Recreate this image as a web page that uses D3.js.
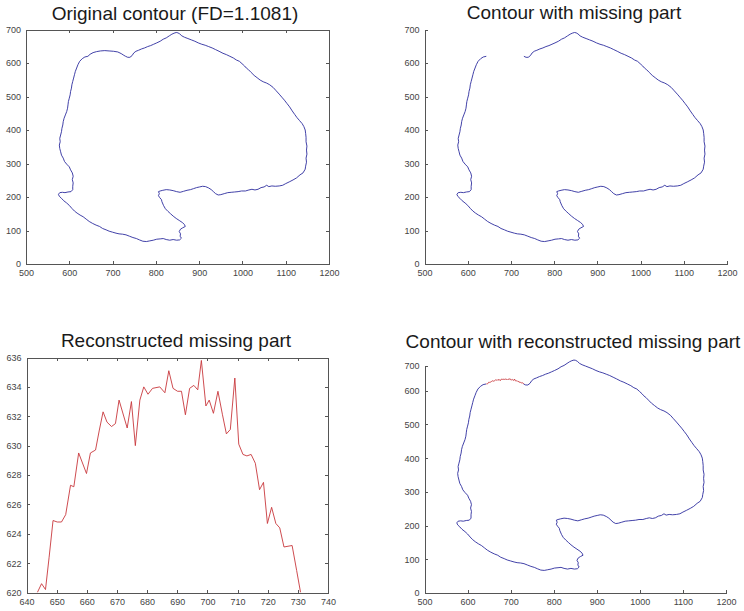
<!DOCTYPE html>
<html>
<head>
<meta charset="utf-8">
<script src="https://cdn.jsdelivr.net/npm/d3@7/dist/d3.min.js"></script>
<style>
  body { margin: 0; background: #fff; }
  svg { display: block; font-family: "Liberation Sans", Arial, sans-serif; }
  .axis text { font-size: 9px; fill: #444; }
  .axis path, .axis line { stroke: #555; stroke-width: 1; shape-rendering: crispEdges; }
  .title { font-size: 19px; fill: #1a1a1a; text-anchor: middle; }
</style>
</head>
<body>
<svg id="chart" width="744" height="611"></svg>
<script>
// contour points [x, y], clockwise from the right end of the gap
const contourKnown = [
  [730,620],[735,617],[740,617],[745,622],[749,630],[754,635],[760,638],[767,642],[774,645],[781,649],
  [788,652],[795,656],[802,660],[810,665],[817,671],[824,675],[831,681],[837,686],[842,689],[847,691],
  [851,690],[855,687],[860,681],[866,677],[874,673],[882,669],[890,665],[898,660],[906,656],[914,653],
  [922,649],[930,645],[938,640],[946,635],[955,629],[963,625],[971,620],[979,615],[986,609],[993,605],
  [999,598],[1005,591],[1009,585],[1014,580],[1020,572],[1027,563],[1034,556],[1041,549],[1048,544],
  [1056,540],[1063,535],[1071,527],[1078,517],[1085,507],[1091,498],[1097,489],[1103,479],[1109,469],
  [1115,457],[1121,446],[1126,437],[1132,428],[1138,419],[1142,410],[1145,400],[1146,390],[1147,378],
  [1147,365],[1149,352],[1148,340],[1149,328],[1147,316],[1148,304],[1146,292],[1145,283],[1140,272],
  [1133,266],[1125,257],[1117,251],[1108,245],[1100,240],[1093,235],[1085,233],[1076,232],[1068,233],
  [1061,231],[1056,235],[1050,230],[1043,228],[1036,223],[1029,221],[1022,223],[1015,221],[1007,218],
  [998,218],[990,216],[982,215],[974,214],[966,213],[958,210],[950,207],[944,206],[938,210],[933,216],
  [928,222],[922,227],[915,231],[908,232],[901,230],[894,228],[887,225],[880,222],[872,220],[864,217],
  [856,214],[848,216],[840,219],[832,221],[824,222],[816,220],[810,218],[806,216],[808,210],[806,204],
  [809,198],[813,192],[814,186],[818,174],[822,165],[828,157],[834,150],[840,143],[847,136],[854,130],
  [861,124],[866,118],[868,112],[862,108],[857,104],[854,97],[857,90],[856,83],[859,77],[855,72],
  [848,71],[840,73],[832,71],[824,73],[817,76],[810,75],[802,74],[794,71],[786,69],[778,67],
  [770,68],[762,72],[755,76],[747,79],[739,83],[731,87],[723,89],[715,90],[708,92],[700,95],
  [692,98],[685,102],[677,106],[670,112],[662,116],[654,121],[646,127],[639,134],[632,141],[625,146],
  [618,152],[612,158],[606,166],[600,175],[594,182],[587,189],[582,196],[577,202],[575,208],[578,213],
  [584,214],[590,213],[597,215],[604,216],[608,222],[608,232],[609,242],[607,252],[609,262],[607,272],
  [603,281],[600,290],[594,298],[589,306],[586,316],[582,325],[580,335],[578,345],[577,355],[579,365],
  [578,375],[580,385],[582,395],[583,405],[585,415],[586,425],[588,435],[591,445],[594,455],[596,465],
  [597,475],[598,485],[600,495],[602,505],[603,515],[605,525],[606,535],[608,545],[610,555],[612,565],
  [614,575],[617,585],[620,595],[624,605],[630,613],[636,618],[643,620]
];

// the original piece of contour that was removed (top panel, left)
const contourGapOriginal = [
  [643,620],[648,626],[655,631],[663,634],[672,636],[682,637],[692,636],[702,635],[712,633],
  [720,628],[726,623],[730,620]
];

// reconstructed missing part
const reconX = [643.6,645,646.3,647.5,648.8,650.2,651.6,653,654.6,655.7,657.3,659.9,661.2,662.9,664.1,
  665.4,666.7,668.2,669.5,670.7,673.4,674.8,676.1,677.6,678.9,680.3,681.8,684.2,685.9,687.2,688.6,
  690.1,691.4,692.7,694.1,695.5,696.8,698,699.5,700.6,702,703.5,705,706.3,707.6,709.1,710.4,711.8,
  713.1,714.5,715.9,717.3,718.6,719.9,721.3,722.7,724,725.4,728.1,729.6,730.9];
const reconY = [620,620.6,620.2,622.4,624.9,624.8,624.8,625.3,627.3,627.2,629.5,628.1,629.5,629.7,631,
  632.3,631.6,631.3,631.5,633.1,631.2,633,630,633.1,634,633.5,633.9,634,633.6,635.1,633.9,
  633.7,633.7,632.1,633.9,634.1,633.8,635.8,632.7,633.1,632.2,633.7,632.1,630.8,631.1,634.6,630.1,629.4,
  629.3,629.4,628.8,627,627.5,624.7,625.8,624.7,624.4,623.1,623.2,621.5,620];

const contourXTicks = [500,600,700,800,900,1000,1100,1200];
const contourYTicks = [0,100,200,300,400,500,600,700];
const reconXTicks = [640,650,660,670,680,690,700,710,720,730,740];
const reconYTicks = [620,622,624,626,628,630,632,634,636];

const titles = [
  "Original contour (FD=1.1081)",
  "Contour with missing part",
  "Reconstructed missing part",
  "Contour with reconstructed missing part"
];

const BLUE = "#2d2d9e", RED = "#c8383c";
const svg = d3.select("#chart");
const reconPts = d3.zip(reconX, reconY);
const fmt = d3.format("d");

function drawPanel(p) {
  const g = svg.append("g");
  const [x0, x1] = p.x.range();
  const yr = p.yAxis.range();
  const yb = yr[0], yt = yr[yr.length - 1];
  const id = "clip" + p.idx;

  g.append("clipPath").attr("id", id).append("rect")
    .attr("x", x0).attr("y", yt)
    .attr("width", x1 - x0).attr("height", yb - yt);

  const line = d3.line().x(d => p.x(d[0])).y(d => p.y(d[1]));
  p.lines.forEach(l => {
    g.append("path")
      .attr("d", line(l.data))
      .attr("fill", "none")
      .attr("stroke", l.color)
      .attr("stroke-width", 0.9)
      .attr("stroke-linejoin", "round")
      .attr("clip-path", p.clip ? `url(#${id})` : null);
  });

  g.append("g").attr("class", "axis")
    .attr("transform", `translate(0,${yb})`)
    .call(d3.axisBottom(p.x).tickValues(p.xTicks).tickFormat(fmt)
      .tickSizeInner(-3).tickSizeOuter(0).tickPadding(6));
  g.append("g").attr("class", "axis")
    .attr("transform", `translate(${x0},0)`)
    .call(d3.axisLeft(p.yAxis).tickValues(p.yTicks).tickFormat(fmt)
      .tickSizeInner(-3).tickSizeOuter(0).tickPadding(5));

  if (p.boxed) {
    g.append("g").attr("class", "axis")
      .attr("transform", `translate(0,${yt})`)
      .call(d3.axisTop(p.x).tickValues(p.xTicks).tickSizeInner(-3).tickSizeOuter(0).tickFormat(""));
    g.append("g").attr("class", "axis")
      .attr("transform", `translate(${x1},0)`)
      .call(d3.axisRight(p.yAxis).tickValues(p.yTicks).tickSizeInner(-3).tickSizeOuter(0).tickFormat(""));
  }

  g.append("text").attr("class", "title")
    .attr("x", p.titleX != null ? p.titleX : (x0 + x1) / 2).attr("y", p.titleY)
    .text(p.title);
}

// panel 1: original contour
const x1s = d3.scaleLinear().domain([500, 1200]).range([26, 329]);
const y1s = d3.scaleLinear().domain([0, 700]).range([264, 29.5]);
drawPanel({ idx: 1, x: x1s, y: y1s, yAxis: y1s, xTicks: contourXTicks, yTicks: contourYTicks,
  boxed: true, title: titles[0], titleY: 20, titleX: 175,
  lines: [{ data: contourKnown.concat(contourGapOriginal.slice(1)), color: BLUE }] });

// panel 2: contour with missing part
const x2s = d3.scaleLinear().domain([500, 1200]).range([424.5, 727]);
const y2s = d3.scaleLinear().domain([0, 700]).range([264, 29.5]);
drawPanel({ idx: 2, x: x2s, y: y2s, yAxis: y2s, xTicks: contourXTicks, yTicks: contourYTicks,
  boxed: false, title: titles[1], titleY: 19, titleX: 574,
  lines: [{ data: contourKnown, color: BLUE }] });

// panel 3: reconstructed missing part
const x3s = d3.scaleLinear().domain([640, 740]).range([26.5, 328]);
const y3s = d3.scaleLinear().domain([620, 636]).range([592.5, 357.5]);
drawPanel({ idx: 3, x: x3s, y: y3s, yAxis: y3s, xTicks: reconXTicks, yTicks: reconYTicks,
  boxed: true, clip: true, title: titles[2], titleY: 347, titleX: 176,
  lines: [{ data: reconPts, color: RED }] });

// panel 4: contour with reconstructed part (top of the axis is cut short in the source)
const x4s = d3.scaleLinear().domain([500, 1200]).range([424.5, 726]);
const y4s = d3.scaleLinear().domain([0, 700]).range([593, 357]);
const y4axis = d3.scaleLinear().domain([0, 600, 700]).range([593, y4s(600), 366]);
drawPanel({ idx: 4, x: x4s, y: y4s, yAxis: y4axis, xTicks: contourXTicks, yTicks: contourYTicks,
  boxed: false, title: titles[3], titleY: 348, titleX: 573,
  lines: [{ data: contourKnown, color: BLUE }, { data: reconPts, color: RED }] });
</script>
</body>
</html>
